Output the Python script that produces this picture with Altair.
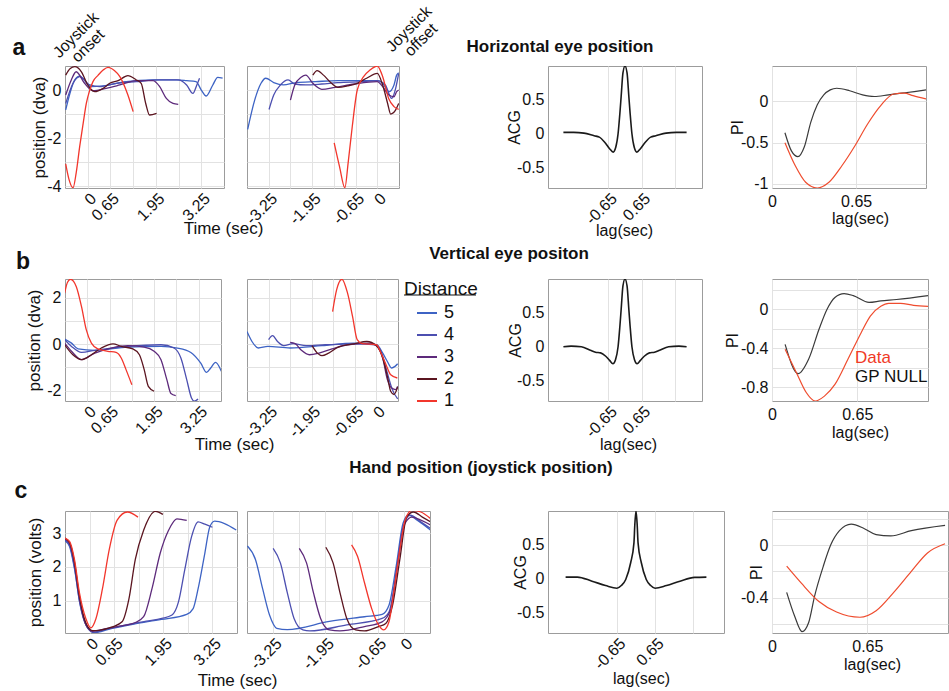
import json
import altair as alt
import pandas as pd

FONT = "Liberation Sans"
TICK = 16

# ---------------- categories / colours ----------------
DIST_ORDER = ["5", "4", "3", "2", "1"]
DIST_COLORS = ["#3d63c4", "#4c4fb0", "#5d2a7b", "#5b1520", "#f2362c"]
PI_DATA_COLOR = "#ef4c2e"
PI_NULL_COLOR = "#3a3a3a"

# ---------------- tick values ----------------
ONSET_GRID = [0, 0.65, 1.3, 1.95, 2.6, 3.25]
ONSET_LABELS = [0, 0.65, 1.95, 3.25]
OFFSET_GRID = [-3.25, -2.6, -1.95, -1.3, -0.65, 0]
OFFSET_LABELS = [-3.25, -1.95, -0.65, 0]
ACG_GRID = [-0.65, 0.65, 1.95]
ACG_LABELS = [-0.65, 0.65]
ACG_Y = [-0.5, 0, 0.5]
PI_X = [0, 0.65]
A_Y_GRID = [-4, -3, -2, -1, 0]
A_Y_LABELS = [-4, -2, 0]
B_Y_GRID = [-2, -1, 0, 1, 2]
B_Y_LABELS = [-2, 0, 2]
C_Y_GRID = [1, 2, 3]
C_Y_LABELS = [1, 2, 3]
PI_A_Y = [-1, -0.5, 0]
PI_A_Y_LABELS = [-1, -0.5, 0]
PI_B_Y = [-0.8, -0.6, -0.4, -0.2, 0, 0.2]
PI_B_Y_LABELS = [-0.8, -0.4, 0]
PI_C_Y = [-0.6, -0.4, -0.2, 0, 0.2]
PI_C_Y_LABELS = [-0.4, 0]

# ---------------- texts ----------------
PANEL_LETTERS = ["a", "b", "c"]
ROW_TITLES = ["Horizontal eye position", "Vertical eye positon", "Hand position (joystick position)"]
ONSET_TEXT = ["Joystick", "onset"]
OFFSET_TEXT = ["Joystick", "offset"]
PI_LEGEND = ["Data", "GP NULL"]
TIME_TITLE = "Time (sec)"
LAG_TITLE = "lag(sec)"
POS_TITLES = ["position (dva)", "position (dva)", "position (volts)"]

# ---------------- row a: horizontal eye position ----------------
A1_D1 = [(-0.63, -3.08), (-0.54, -3.7), (-0.42, -4.07), (-0.33, -3.45), (-0.23, -2.36), (-0.13, -1.39),
         (-0.04, -0.56), (0.06, 0.0), (0.15, 0.35), (0.30, 0.62), (0.44, 0.83), (0.58, 0.94), (0.77, 0.8),
         (0.92, 0.56), (1.06, 0.14), (1.15, -0.21), (1.30, -0.9)]
A1_D2 = [(-0.63, 0.62), (-0.5, 0.9), (-0.37, 0.97), (-0.18, 0.76), (0.0, 0.21), (0.2, -0.07), (0.44, 0.07),
         (0.63, 0.28), (0.87, 0.39), (1.15, 0.6), (1.39, 0.42), (1.53, 0.28), (1.66, -0.56), (1.77, -1.04),
         (1.97, -0.97)]
A1_D3 = [(-0.63, -0.21), (-0.47, 0.42), (-0.33, 0.76), (-0.09, 0.28), (0.15, -0.03), (0.53, 0.07), (0.92, 0.21),
         (1.39, 0.39), (1.87, 0.39), (2.06, 0.14), (2.25, -0.35), (2.44, -0.56), (2.59, -0.6)]
A1_D4 = [(-0.63, -0.56), (-0.42, 0.28), (-0.23, 0.56), (0.06, 0.21), (0.34, 0.14), (0.82, 0.28), (1.39, 0.35),
         (2.06, 0.42), (2.59, 0.42), (2.83, 0.21), (3.01, -0.14), (3.12, 0.2), (3.2, 0.49)]
A1_D5 = [(-0.63, -0.83), (-0.37, 0.42), (-0.23, 0.58), (0.1, 0.14), (0.44, 0.17), (1.1, 0.35), (1.87, 0.42),
         (2.54, 0.42), (2.83, 0.39), (3.1, 0.35), (3.25, 0.0), (3.39, -0.25), (3.58, 0.21), (3.72, 0.53),
         (3.86, 0.49)]

A2_D1 = [(-1.29, -2.2), (-1.13, -3.19), (-0.97, -4.07), (-0.87, -3.0), (-0.75, -1.53), (-0.6, 0.0),
         (-0.41, 0.56), (-0.22, 0.83), (0.0, 1.0), (0.16, 0.56), (0.34, -0.35), (0.5, -0.69), (0.64, -0.81)]
A2_D2 = [(-1.93, 0.62), (-1.8, 0.81), (-1.61, 0.62), (-1.37, 0.28), (-1.18, 0.11), (-0.89, 0.17), (-0.6, 0.28),
         (-0.32, 0.49), (0.0, 0.69), (0.16, 0.21), (0.31, -0.56), (0.4, -1.0), (0.55, -0.83), (0.64, -0.56)]
A2_D3 = [(-2.6, -0.42), (-2.47, 0.21), (-2.28, 0.53), (-2.14, 0.62), (-1.93, 0.28), (-1.66, 0.03),
         (-1.27, 0.11), (-0.69, 0.25), (0.0, 0.35), (0.16, 0.14), (0.35, -0.21), (0.5, -0.28), (0.58, -0.07),
         (0.64, 0.0)]
A2_D4 = [(-3.24, -0.81), (-3.1, -0.21), (-2.9, 0.21), (-2.67, 0.42), (-2.47, 0.25), (-2.14, 0.21),
         (-1.66, 0.25), (-1.18, 0.31), (-0.41, 0.35), (0.0, 0.39), (0.24, 0.21), (0.43, -0.35), (0.55, 0.07),
         (0.64, 0.69)]
A2_D5 = [(-3.88, -1.64), (-3.67, -0.42), (-3.48, 0.28), (-3.34, 0.49), (-3.1, 0.31), (-2.81, 0.21),
         (-2.43, 0.31), (-1.85, 0.35), (-1.18, 0.39), (-0.41, 0.39), (0.0, 0.39), (0.16, 0.28), (0.35, -0.07),
         (0.5, 0.21), (0.58, 0.62), (0.64, 0.72)]

# ---------------- row b: vertical eye position ----------------
B1_D1 = [(-0.66, 2.19), (-0.58, 2.65), (-0.49, 2.79), (-0.4, 2.7), (-0.32, 2.47), (-0.17, 1.62), (-0.03, 0.62),
         (0.12, 0.04), (0.31, -0.21), (0.6, -0.31), (0.84, -0.36), (0.99, -0.6), (1.13, -1.1), (1.3, -1.75)]
B1_D2 = [(-0.66, -0.03), (-0.42, -0.46), (-0.17, -0.67), (0.12, -0.46), (0.41, -0.17), (0.75, 0.01),
         (0.99, -0.1), (1.33, -0.21), (1.52, -0.46), (1.66, -1.1), (1.78, -1.82), (1.95, -2.03)]
B1_D3 = [(-0.66, 0.04), (-0.46, -0.31), (-0.17, -0.67), (0.22, -0.39), (0.7, -0.17), (1.18, -0.07),
         (1.66, -0.13), (1.95, -0.31), (2.15, -0.67), (2.32, -1.53), (2.44, -2.13), (2.58, -2.22)]
B1_D4 = [(-0.66, 0.19), (-0.46, -0.1), (-0.17, -0.36), (0.22, -0.27), (1.18, -0.1), (2.15, -0.03),
         (2.53, -0.17), (2.73, -0.6), (2.9, -1.53), (3.04, -2.32), (3.12, -2.46), (3.23, -2.36)]
B1_D5 = [(-0.66, 0.22), (-0.46, 0.04), (-0.27, -0.21), (0.22, -0.27), (1.18, -0.13), (2.15, -0.1),
         (2.63, -0.17), (3.02, -0.36), (3.31, -0.82), (3.48, -1.22), (3.6, -1.03), (3.74, -0.79), (3.91, -1.17)]

B2_D1 = [(-1.32, 1.4), (-1.2, 2.33), (-1.04, 2.79), (-0.87, 2.19), (-0.72, 1.19), (-0.58, 0.19), (-0.43, 0.02),
         (0.0, -0.03), (0.14, -0.39), (0.29, -0.89), (0.43, -1.32), (0.63, -1.46)]
B2_D2 = [(-1.94, -0.07), (-1.78, -0.39), (-1.64, -0.5), (-1.44, -0.39), (-1.15, -0.13), (-0.67, 0.01),
         (-0.29, 0.11), (0.0, -0.07), (0.19, -0.6), (0.33, -1.39), (0.43, -2.03), (0.53, -2.17), (0.64, -1.85)]
B2_D3 = [(-2.6, 0.07), (-2.45, 0.02), (-2.26, -0.27), (-2.02, -0.46), (-1.73, -0.39), (-1.34, -0.21),
         (-0.87, -0.03), (-0.19, 0.04), (0.0, -0.07), (0.19, -0.6), (0.33, -1.53), (0.46, -1.89), (0.58, -1.96),
         (0.64, -1.82)]
B2_D4 = [(-3.25, 0.19), (-3.13, 0.36), (-2.98, 0.11), (-2.79, -0.07), (-2.51, 0.02), (-2.12, -0.07),
         (-1.54, -0.03), (-0.67, 0.01), (0.0, -0.03), (0.19, -0.53), (0.33, -1.25), (0.48, -1.96), (0.64, -2.36)]
B2_D5 = [(-3.9, 0.54), (-3.75, 0.11), (-3.56, -0.17), (-3.27, -0.1), (-2.6, -0.17), (-1.64, -0.07),
         (-0.67, 0.04), (0.0, -0.03), (0.19, -0.39), (0.33, -0.75), (0.46, -1.03), (0.56, -0.96), (0.64, -0.85)]

# ---------------- row c: hand position ----------------
C1_D1 = [(-0.66, 2.85), (-0.53, 2.75), (-0.4, 2.22), (-0.27, 1.25), (-0.1, 0.48), (0.03, 0.2), (0.17, 0.48),
         (0.34, 1.35), (0.52, 2.51), (0.73, 3.38), (1.0, 3.62), (1.28, 3.47)]
C1_D2 = [(-0.66, 2.85), (-0.53, 2.72), (-0.4, 2.15), (-0.27, 1.15), (-0.1, 0.35), (0.08, 0.12), (0.25, 0.13),
         (0.6, 0.23), (0.86, 0.38), (1.04, 1.05), (1.21, 2.22), (1.43, 3.08), (1.74, 3.64), (1.94, 3.55)]
C1_D3 = [(-0.66, 2.83), (-0.53, 2.7), (-0.4, 2.1), (-0.27, 1.1), (-0.1, 0.3), (0.08, 0.1), (0.4, 0.17),
         (0.8, 0.25), (1.21, 0.36), (1.43, 0.53), (1.65, 1.35), (1.87, 2.41), (2.09, 3.08), (2.31, 3.42),
         (2.57, 3.37)]
C1_D4 = [(-0.66, 2.8), (-0.53, 2.65), (-0.4, 2.0), (-0.27, 1.0), (-0.08, 0.25), (0.1, 0.07), (0.5, 0.18),
         (1.0, 0.3), (1.5, 0.4), (1.91, 0.48), (2.18, 0.58), (2.35, 0.96), (2.52, 1.93), (2.7, 2.9), (2.87, 3.33),
         (3.05, 3.26), (3.25, 3.17)]
C1_D5 = [(-0.66, 2.78), (-0.53, 2.6), (-0.4, 1.95), (-0.25, 0.9), (-0.05, 0.2), (0.12, 0.06), (0.6, 0.19),
         (1.2, 0.32), (1.9, 0.45), (2.57, 0.6), (2.74, 0.77), (2.87, 1.35), (3.05, 2.41), (3.18, 3.18),
         (3.31, 3.35), (3.57, 3.28), (3.88, 3.09)]

C2_D1 = [(-1.3, 2.65), (-1.15, 2.31), (-0.98, 1.54), (-0.8, 0.77), (-0.63, 0.29), (-0.5, 0.14), (-0.37, 0.38),
         (-0.24, 1.35), (-0.1, 2.51), (0.03, 3.38), (0.2, 3.67), (0.42, 3.62), (0.66, 3.43)]
C2_D2 = [(-1.94, 2.58), (-1.76, 2.12), (-1.59, 1.25), (-1.42, 0.48), (-1.2, 0.14), (-0.98, 0.11), (-0.63, 0.24),
         (-0.45, 0.33), (-0.28, 0.87), (-0.1, 2.22), (0.07, 3.47), (0.24, 3.62), (0.46, 3.47), (0.66, 3.33)]
C2_D3 = [(-2.6, 2.55), (-2.42, 2.12), (-2.25, 1.25), (-2.07, 0.48), (-1.85, 0.14), (-1.59, 0.11), (-0.98, 0.24),
         (-0.54, 0.38), (-0.32, 0.77), (-0.15, 2.12), (0.03, 3.29), (0.2, 3.47), (0.42, 3.38), (0.66, 3.24)]
C2_D4 = [(-3.25, 2.55), (-3.07, 2.12), (-2.9, 1.25), (-2.73, 0.48), (-2.51, 0.14), (-2.34, 0.11), (-1.42, 0.29),
         (-0.54, 0.48), (-0.37, 0.67), (-0.19, 1.83), (-0.02, 3.18), (0.16, 3.53), (0.42, 3.33), (0.66, 3.14)]
C2_D5 = [(-3.89, 2.62), (-3.69, 2.22), (-3.51, 1.35), (-3.34, 0.58), (-3.16, 0.19), (-2.9, 0.15), (-1.85, 0.39),
         (-0.98, 0.53), (-0.54, 0.6), (-0.37, 0.87), (-0.19, 2.03), (-0.02, 3.29), (0.11, 3.53), (0.33, 3.38),
         (0.66, 3.09)]

# ---------------- autocorrelograms ----------------
ACG_A = [(-2.4, 0.02), (-2.0, 0.02), (-1.6, 0.01), (-1.2, -0.03), (-1.0, -0.05), (-0.8, -0.12), (-0.6, -0.22),
         (-0.46, -0.27), (-0.36, -0.2), (-0.27, 0.0), (-0.2, 0.3), (-0.15, 0.55), (-0.08, 0.9), (0.0, 1.0),
         (0.08, 0.9), (0.15, 0.55), (0.2, 0.3), (0.27, 0.0), (0.36, -0.2), (0.46, -0.27), (0.6, -0.22),
         (0.8, -0.12), (1.0, -0.05), (1.2, -0.03), (1.6, 0.01), (2.0, 0.02), (2.4, 0.02)]
ACG_B = [(-2.4, 0.0), (-2.1, 0.01), (-1.7, 0.0), (-1.35, -0.05), (-1.15, -0.08), (-0.95, -0.09), (-0.75, -0.14),
         (-0.6, -0.2), (-0.47, -0.25), (-0.37, -0.19), (-0.27, 0.0), (-0.2, 0.3), (-0.15, 0.55), (-0.08, 0.9),
         (0.0, 1.0), (0.08, 0.9), (0.15, 0.55), (0.2, 0.3), (0.27, 0.0), (0.37, -0.19), (0.47, -0.25),
         (0.6, -0.2), (0.75, -0.14), (0.95, -0.09), (1.15, -0.08), (1.35, -0.05), (1.7, 0.0), (2.1, 0.01),
         (2.4, 0.0)]
ACG_C = [(-2.4, 0.025), (-2.0, 0.025), (-1.5, -0.035), (-1.04, -0.1), (-0.65, -0.14), (-0.5, -0.1),
         (-0.35, -0.01), (-0.18, 0.24), (-0.07, 0.53), (-0.04, 0.8), (0.0, 1.0), (0.04, 0.8), (0.07, 0.53),
         (0.18, 0.24), (0.35, -0.01), (0.5, -0.1), (0.65, -0.14), (1.04, -0.1), (1.5, -0.035), (2.0, 0.02),
         (2.4, 0.025)]

# ---------------- predictability index ----------------
PI_A_NULL = [(0.1, -0.38), (0.15, -0.6), (0.2, -0.67), (0.25, -0.55), (0.3, -0.25), (0.35, -0.04), (0.4, 0.08),
             (0.45, 0.14), (0.5, 0.16), (0.6, 0.13), (0.7, 0.08), (0.79, 0.06), (0.9, 0.08), (1.0, 0.1),
             (1.1, 0.12), (1.19, 0.14)]
PI_A_DATA = [(0.1, -0.5), (0.18, -0.78), (0.26, -0.98), (0.35, -1.05), (0.44, -0.98), (0.54, -0.78),
             (0.64, -0.54), (0.74, -0.27), (0.84, -0.05), (0.94, 0.09), (1.02, 0.1), (1.09, 0.07), (1.19, 0.03)]
PI_B_NULL = [(0.1, -0.36), (0.2, -0.66), (0.28, -0.51), (0.36, -0.2), (0.42, 0.0), (0.48, 0.12), (0.55, 0.16),
             (0.62, 0.14), (0.74, 0.07), (0.83, 0.085), (0.95, 0.1), (1.19, 0.14)]
PI_B_DATA = [(0.1, -0.41), (0.19, -0.66), (0.26, -0.85), (0.33, -0.94), (0.4, -0.89), (0.48, -0.77),
             (0.58, -0.51), (0.68, -0.24), (0.75, -0.07), (0.83, 0.03), (0.89, 0.06), (0.98, 0.06), (1.08, 0.04),
             (1.19, 0.03)]
PI_C_NULL = [(0.1, -0.36), (0.154, -0.54), (0.205, -0.66), (0.25, -0.59), (0.29, -0.39), (0.35, -0.16),
             (0.4, 0.0), (0.46, 0.11), (0.54, 0.16), (0.63, 0.125), (0.71, 0.08), (0.81, 0.07), (0.95, 0.11),
             (1.18, 0.15)]
PI_C_DATA = [(0.1, -0.16), (0.2, -0.29), (0.32, -0.43), (0.44, -0.51), (0.6, -0.55), (0.71, -0.5),
             (0.83, -0.36), (0.95, -0.2), (1.06, -0.06), (1.18, 0.01)]


# ======================================================================
def lab_expr(show, fmt):
    arr = json.dumps(show)
    return ("indexof(" + arr + ", datum.value) >= 0 ? (datum.value == 0 ? '0' : "
            "(datum.value < 0 ? '-' : '') + format(abs(datum.value), '" + fmt + "')) : ''")


def series_df(named):
    rows = []
    for d, pts in named:
        for t, v in pts:
            rows.append({"t": t, "v": v, "dist": d})
    return pd.DataFrame(rows)


def pts_df(pts):
    return pd.DataFrame({"t": [p[0] for p in pts], "v": [p[1] for p in pts]})


LEGEND = alt.Legend(orient="none", legendX=339, legendY=214, title="Distance", titleFont=FONT,
                    titleFontSize=19, titleFontWeight="normal", titleColor="#111", titlePadding=3,
                    labelFont=FONT, labelFontSize=18, labelColor="#111", symbolType="stroke",
                    symbolSize=400, symbolStrokeWidth=2, symbolOffset=12, labelOffset=6, rowPadding=2)


def ann(text, x, y, size, weight="normal", angle=0, color="#111", align="center"):
    kw = dict(font=FONT, fontSize=size, fontWeight=weight, color=color, align=align, baseline="middle")
    if angle:
        kw["angle"] = angle
    return alt.Chart(pd.DataFrame({"label": [text]})).mark_text(**kw).encode(
        text="label:N", x=alt.value(x), y=alt.value(y))


def anchor(x, y):
    # invisible 1-px rule used only to pin the page extent
    return alt.Chart(pd.DataFrame({"k": [0]})).mark_rule(strokeOpacity=0).encode(
        x=alt.value(x), x2=alt.value(x + 1), y=alt.value(y))


def spacer(w, h):
    return alt.Chart(pd.DataFrame({"k": [0]})).mark_rule(strokeOpacity=0).encode(
        x=alt.value(0), x2=alt.value(1), y=alt.value(1)).properties(
        width=w, height=h, view=alt.ViewBackground(stroke="transparent"))


def time_panel(named, xdom, xgrid, xlabels, ydom, ygrid, ylabels, w, h, show_y,
               xtitle=None, ytitle=None, extras=()):
    xkw = dict(values=xgrid, labelExpr=lab_expr(xlabels, ".2f"), labelAngle=315, grid=True, ticks=False,
               domain=False, labelFlush=False, labelOverlap=False, labelPadding=2, labelFontSize=TICK)
    if xtitle:
        xkw.update(titleX=xtitle[1], titleY=xtitle[2], titleBaseline="middle", titleAlign="center")
    ykw = dict(values=ygrid, grid=True, ticks=False, domain=False, labelFlush=False, labelOverlap=False,
               labelPadding=4, labelFontSize=TICK)
    if show_y:
        ykw["labelExpr"] = lab_expr(ylabels, "~g")
    else:
        ykw["labels"] = False
    if ytitle:
        ykw.update(titleX=ytitle[1], titleY=h / 2, titleAngle=270, titleBaseline="middle", titleAlign="center")
    xenc = alt.X("t:Q", scale=alt.Scale(domain=xdom, nice=False, zero=False), axis=alt.Axis(**xkw),
                 title=xtitle[0] if xtitle else None)
    yenc = alt.Y("v:Q", scale=alt.Scale(domain=ydom, nice=False, zero=False), axis=alt.Axis(**ykw),
                 title=ytitle[0] if ytitle else None)
    lines = alt.Chart(series_df(named)).mark_line(interpolate="monotone", clip=True, strokeWidth=1.3).encode(
        x=xenc, y=yenc,
        color=alt.Color("dist:N", scale=alt.Scale(domain=DIST_ORDER, range=DIST_COLORS), legend=LEGEND))
    return alt.layer(lines, *extras).properties(width=w, height=h)


def acg_panel(pts, w, h, xtitle, ytitle_x):
    xenc = alt.X("t:Q", scale=alt.Scale(domain=[-3, 3], nice=False, zero=False),
                 axis=alt.Axis(values=ACG_GRID, labelExpr=lab_expr(ACG_LABELS, ".2f"), labelAngle=315, grid=True,
                               ticks=False, domain=False, labelFlush=False, labelOverlap=False, labelPadding=2,
                               labelFontSize=TICK, titleX=xtitle[0], titleY=xtitle[1], titleBaseline="middle",
                               titleAlign="center", titleFontSize=16),
                 title=LAG_TITLE)
    yenc = alt.Y("v:Q", scale=alt.Scale(domain=[-0.8, 1.0], nice=False, zero=False),
                 axis=alt.Axis(values=ACG_Y, labelExpr=lab_expr(ACG_Y, "~g"), grid=False, ticks=False,
                               domain=False, labelFlush=False, labelOverlap=False, labelPadding=4,
                               labelFontSize=TICK, titleX=ytitle_x, titleY=h / 2, titleAngle=270,
                               titleBaseline="middle", titleAlign="center", titleFontSize=16),
                 title="ACG")
    return alt.Chart(pts_df(pts)).mark_line(interpolate="monotone", clip=True, strokeWidth=1.6,
                                            color="#1a1a1a").encode(x=xenc, y=yenc).properties(width=w, height=h)


def pi_panel(null_pts, data_pts, ydom, ygrid, ylabels, w, h, xtitle, ytitle_x, xmax, extras=()):
    xenc = alt.X("t:Q", scale=alt.Scale(domain=[0, xmax], nice=False, zero=False),
                 axis=alt.Axis(values=PI_X, labelExpr=lab_expr(PI_X, "~g"), labelAngle=0, grid=True, ticks=False,
                               domain=False, labelFlush=False, labelOverlap=False, labelPadding=5,
                               labelFontSize=TICK, titleX=xtitle[0], titleY=xtitle[1], titleBaseline="middle",
                               titleAlign="center", titleFontSize=16),
                 title=LAG_TITLE)
    yenc = alt.Y("v:Q", scale=alt.Scale(domain=ydom, nice=False, zero=False),
                 axis=alt.Axis(values=ygrid, labelExpr=lab_expr(ylabels, "~g"), grid=True, ticks=False,
                               domain=False, labelFlush=False, labelOverlap=False, labelPadding=4,
                               labelFontSize=TICK, titleX=ytitle_x, titleY=h / 2, titleAngle=270,
                               titleBaseline="middle", titleAlign="center", titleFontSize=16),
                 title="PI")
    null_line = alt.Chart(pts_df(null_pts)).mark_line(interpolate="monotone", clip=True, strokeWidth=1.2,
                                                      color=PI_NULL_COLOR).encode(x=xenc, y=yenc)
    data_line = alt.Chart(pts_df(data_pts)).mark_line(interpolate="monotone", clip=True, strokeWidth=1.2,
                                                      color=PI_DATA_COLOR).encode(x=xenc, y=yenc)
    return alt.layer(null_line, data_line, *extras).properties(width=w, height=h)


H = 122
ONSET_DOM = [-0.65, 3.9]
OFFSET_DOM = [-3.9, 0.65]

# ---------------- row a ----------------
a1 = time_panel([("5", A1_D5), ("4", A1_D4), ("3", A1_D3), ("2", A1_D2), ("1", A1_D1)],
                ONSET_DOM, ONSET_GRID, ONSET_LABELS, [-4.08, 1.0], A_Y_GRID, A_Y_LABELS, 159, H, True,
                xtitle=(TIME_TITLE, 158, 40), ytitle=(POS_TITLES[0], -26),
                extras=[anchor(-64, -65),
                        ann(PANEL_LETTERS[0], -46, -18, 23, "bold"),
                        ann(ONSET_TEXT[0], 11, -31, 16, angle=315),
                        ann(ONSET_TEXT[1], 23, -20, 16, angle=315),
                        ann(ROW_TITLES[0], 495, -19, 17, "bold")])
a2 = time_panel([("5", A2_D5), ("4", A2_D4), ("3", A2_D3), ("2", A2_D2), ("1", A2_D1)],
                OFFSET_DOM, OFFSET_GRID, OFFSET_LABELS, [-4.08, 1.0], A_Y_GRID, A_Y_LABELS, 152, H, False,
                extras=[ann(OFFSET_TEXT[0], 162, -37, 16, angle=315),
                        ann(OFFSET_TEXT[1], 174, -26, 16, angle=315)])
a3 = acg_panel(ACG_A, 154, H, (76, 42), -34)
a4 = pi_panel(PI_A_NULL, PI_A_DATA, [-1.05, 0.43], PI_A_Y, PI_A_Y_LABELS, 154, H, (88, 30), -35, 1.19)

# ---------------- row b ----------------
b1 = time_panel([("5", B1_D5), ("4", B1_D4), ("3", B1_D3), ("2", B1_D2), ("1", B1_D1)],
                ONSET_DOM, ONSET_GRID, ONSET_LABELS, [-2.45, 2.8], B_Y_GRID, B_Y_LABELS, 156, H, True,
                xtitle=(TIME_TITLE, 169, 43), ytitle=(POS_TITLES[1], -31),
                extras=[ann(PANEL_LETTERS[1], -42, -17, 23, "bold"),
                        ann(ROW_TITLES[1], 444, -25, 17, "bold")])
b2 = time_panel([("5", B2_D5), ("4", B2_D4), ("3", B2_D3), ("2", B2_D2), ("1", B2_D1)],
                OFFSET_DOM, OFFSET_GRID, OFFSET_LABELS, [-2.45, 2.8], B_Y_GRID, B_Y_LABELS, 151, H, False,
                extras=[alt.Chart(pd.DataFrame({"k": [0]})).mark_rule(color="#111", strokeWidth=1.2).encode(
                    x=alt.value(157), x2=alt.value(229), y=alt.value(16))])
b3 = acg_panel(ACG_B, 154, H, (80, 43), -33)
b4 = pi_panel(PI_B_NULL, PI_B_DATA, [-0.94, 0.31], PI_B_Y, PI_B_Y_LABELS, 156, H, (88, 31), -40, 1.19,
              extras=[ann(PI_LEGEND[0], 83, 79, 17, color="#f03a26", align="left"),
                      ann(PI_LEGEND[1], 83, 98, 17, color="#111", align="left")])

# ---------------- row c ----------------
c1 = time_panel([("5", C1_D5), ("4", C1_D4), ("3", C1_D3), ("2", C1_D2), ("1", C1_D1)],
                ONSET_DOM, ONSET_GRID, ONSET_LABELS, [0.05, 3.65], C_Y_GRID, C_Y_LABELS, 172, H, True,
                xtitle=(TIME_TITLE, 172, 47), ytitle=(POS_TITLES[2], -30),
                extras=[ann(PANEL_LETTERS[2], -44, -20, 23, "bold"),
                        ann(ROW_TITLES[2], 416, -43, 17, "bold")])
c2 = time_panel([("5", C2_D5), ("4", C2_D4), ("3", C2_D3), ("2", C2_D2), ("1", C2_D1)],
                OFFSET_DOM, OFFSET_GRID, OFFSET_LABELS, [0.05, 3.65], C_Y_GRID, C_Y_LABELS, 183, H, False)
c3 = acg_panel(ACG_C, 176, H, (93, 45), -28)
c4 = pi_panel(PI_C_NULL, PI_C_DATA, [-0.67, 0.26], PI_C_Y, PI_C_Y_LABELS, 176, H, (100, 31), -16, 1.2,
              extras=[anchor(175, 180)])

# ---------------- rigid grid: 7 columns (panels + gaps), spacer rows between ----------------
cells = [
    a1, spacer(10, H), a2, spacer(118, H), a3, spacer(48, H), a4,
    *[spacer(1, 91) for _ in range(7)],
    b1, spacer(10, H), b2, spacer(118, H), b3, spacer(48, H), b4,
    *[spacer(1, 110) for _ in range(7)],
    c1, spacer(10, H), c2, spacer(118, H), c3, spacer(48, H), c4,
]

chart = alt.concat(*cells, columns=7, spacing=0, align="each", bounds="flush").properties(
    padding=0
).configure(font=FONT).configure_view(stroke="#9c9c9c", strokeWidth=1).configure_axis(
    labelFont=FONT, titleFont=FONT, labelColor="#111", titleColor="#111", titleFontSize=17,
    titleFontWeight="normal", gridColor="#e2e2e2", gridWidth=1)

chart.save("out.html", embed_options={"renderer": "svg", "actions": False})
